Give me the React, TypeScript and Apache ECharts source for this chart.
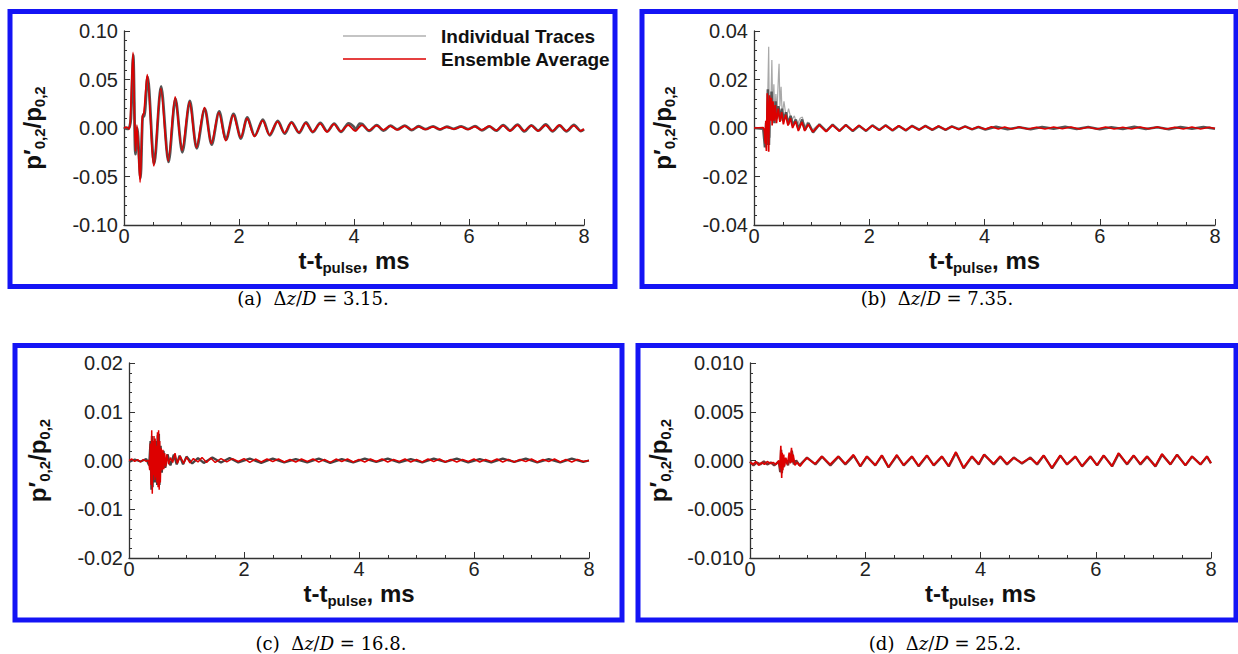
import React, { useEffect, useRef } from "react";
import * as echarts from "echarts";

// ---------------- data (t in ms, value p'/p) ----------------
const xTicks = [0, 2, 4, 6, 8];
const yTicksA = [-0.1, -0.05, 0, 0.05, 0.1];
const yTicksB = [-0.04, -0.02, 0, 0.02, 0.04];
const yTicksC = [-0.02, -0.01, 0, 0.01, 0.02];
const yTicksD = [-0.01, -0.005, 0, 0.005, 0.01];
const yDecimals = [2, 2, 2, 3];
const captions = ["(a)", "(b)", "(c)", "(d)"];
const dzOverD = ["3.15", "7.35", "16.8", "25.2"];
const legendNames = ["Individual Traces", "Ensemble Average"];

const avgA: number[][] = [[0,0],[0.05,0.001],[0.09,-0.001],[0.11,0.008],[0.157,0.078],[0.2,-0.024],[0.225,0.003],[0.28,-0.056],[0.32,0.012],[0.345,0.015],[0.405,0.055],[0.52,-0.039],[0.64,0.041],[0.77,-0.034],[0.89,0.032],[1.01,-0.023],[1.14,0.027],[1.26,-0.02],[1.4,0.021],[1.52,-0.016],[1.65,0.016],[1.77,-0.013],[1.9,0.0136],[2.03,-0.01],[2.14,0.01],[2.27,-0.0086],[2.41,0.0076],[2.53,-0.007],[2.67,0.0065],[2.79,-0.005],[2.91,0.0055],[3.04,-0.0045],[3.16,0.005],[3.28,-0.004],[3.41,0.0045],[3.53,-0.004],[3.65,0.004],[3.77,-0.0035],[3.9,0.003],[4.02,-0.003],[4.14,0.003],[4.26,-0.0025],[4.39,0.0025],[4.51,-0.002],[4.63,0.002],[4.75,-0.002],[4.88,0.002],[5.0,-0.0018],[5.12,0.0015],[5.24,-0.0015],[5.37,0.0012],[5.49,-0.0012],[5.61,0.001],[5.73,-0.0012],[5.86,0.0012],[5.98,-0.0015],[6.1,0.0015],[6.22,-0.002],[6.35,0.002],[6.47,-0.0025],[6.59,0.0025],[6.71,-0.003],[6.84,0.003],[6.96,-0.003],[7.08,0.0025],[7.2,-0.003],[7.33,0.003],[7.45,-0.003],[7.57,0.003],[7.69,-0.003],[7.82,0.0025],[7.94,-0.003],[8.0,-0.001]];

const traceA: number[][] = [[0,0.001],[0.06,-0.001],[0.1,0.002],[0.12,0.01],[0.16,0.075],[0.2,-0.027],[0.23,0.0],[0.285,-0.052],[0.33,0.014],[0.35,0.012],[0.41,0.053],[0.525,-0.037],[0.645,0.043],[0.775,-0.035],[0.895,0.03],[1.015,-0.025],[1.145,0.028],[1.265,-0.021],[1.405,0.02],[1.525,-0.017],[1.655,0.017],[1.775,-0.012],[1.905,0.0145],[2.035,-0.011],[2.145,0.011],[2.275,-0.008],[2.415,0.0085],[2.535,-0.0075],[2.675,0.0072],[2.795,-0.0058],[2.915,0.006],[3.045,-0.005],[3.165,0.0058],[3.285,-0.0042],[3.415,0.0052],[3.535,-0.0035],[3.655,0.0045],[3.775,-0.004],[3.905,0.0048],[4.0,0.001],[4.025,-0.0025],[4.1,0.0045],[4.145,0.004],[4.265,-0.003],[4.395,0.003],[4.515,-0.0028],[4.635,0.0025],[4.755,-0.0015],[4.885,0.0025],[5.005,-0.0022],[5.125,0.0018],[5.245,-0.0012],[5.375,0.0016],[5.495,-0.0016],[5.615,0.0013],[5.735,-0.0008],[5.865,0.0016],[5.985,-0.0012],[6.105,0.0019],[6.225,-0.0024],[6.355,0.0017],[6.475,-0.0028],[6.595,0.003],[6.715,-0.0026],[6.845,0.0034],[6.965,-0.0035],[7.085,0.0028],[7.205,-0.0027],[7.335,0.0036],[7.455,-0.0034],[7.575,0.0026],[7.695,-0.0035],[7.825,0.0032],[7.945,-0.0032],[8.0,-0.0015]];

const avgB: number[][] = [[0,0],[0.16,0.0002],[0.18,-0.001],[0.195,-0.0065],[0.205,0.003],[0.215,-0.0095],[0.23,0.0143],[0.245,0.006],[0.255,-0.0098],[0.27,0.0135],[0.285,0.003],[0.3,0.0125],[0.315,0.001],[0.33,0.011],[0.35,0.003],[0.37,0.0095],[0.39,0.002],[0.42,0.008],[0.45,0.0025],[0.48,0.0065],[0.51,0.0015],[0.55,0.0055],[0.59,0.001],[0.63,0.004],[0.67,0.0],[0.72,0.0028],[0.77,-0.0012],[0.83,0.0025],[0.88,-0.0012],[0.94,0.0015],[1.02,-0.0016],[1.13,0.0013],[1.25,-0.0015],[1.36,0.0012],[1.48,-0.0013],[1.59,0.0012],[1.71,-0.0011],[1.82,0.0011],[1.94,-0.0011],[2.05,0.001],[2.17,-0.001],[2.28,0.001],[2.4,-0.0009],[2.51,0.0009],[2.63,-0.0009],[2.74,0.0008],[2.86,-0.0008],[2.97,0.0008],[3.09,-0.0007],[3.2,0.0008],[3.32,-0.0007],[3.43,0.0006],[3.55,-0.0006],[3.66,0.0006],[3.78,-0.0005],[3.89,0.0005],[4.01,-0.0005],[4.12,0.0005],[4.24,-0.0004],[4.35,0.0004],[4.47,-0.0004],[4.6,0.0004],[4.75,-0.0004],[4.9,0.0003],[5.05,-0.0004],[5.2,0.0004],[5.35,-0.0003],[5.5,0.0004],[5.65,-0.0004],[5.8,0.0003],[5.95,-0.0004],[6.1,0.0004],[6.25,-0.0004],[6.4,0.0003],[6.55,-0.0004],[6.7,0.0004],[6.85,-0.0003],[7.0,0.0004],[7.15,-0.0004],[7.3,0.0003],[7.45,-0.0004],[7.6,0.0004],[7.75,-0.0004],[7.9,0.0003],[8.0,-0.0002]];

const spikeB: number[][] = [[0,0],[0.17,0],[0.19,-0.004],[0.21,-0.0085],[0.235,0.01],[0.255,0.0335],[0.265,0.006],[0.28,-0.004],[0.295,0.012],[0.31,0.028],[0.325,0.008],[0.345,0.018],[0.36,0.005],[0.38,0.014],[0.4,0.007],[0.425,0.022],[0.435,0.0265],[0.45,0.009],[0.47,0.017],[0.49,0.005],[0.52,0.011],[0.56,0.004],[0.6,0.008],[0.65,0.003],[0.7,0.005],[0.75,0.001],[0.8,0.004],[0.84,0.0045],[0.88,0.0005],[0.93,0.0025],[1.0,-0.001],[1.1,0.001]];

const traceB: number[][] = [[0,0],[0.16,-0.0003],[0.19,-0.008],[0.21,0.002],[0.22,-0.007],[0.24,0.016],[0.25,0.004],[0.26,-0.007],[0.275,0.011],[0.29,0.005],[0.305,0.015],[0.32,0.004],[0.335,0.009],[0.355,0.002],[0.375,0.011],[0.395,0.004],[0.425,0.009],[0.455,0.003],[0.485,0.008],[0.515,0.003],[0.555,0.0065],[0.595,0.0015],[0.635,0.005],[0.675,0.001],[0.725,0.0035],[0.775,-0.0005],[0.835,0.0035],[0.885,-0.0008],[0.945,0.002],[1.025,-0.0018],[1.135,0.0015],[1.255,-0.0013],[1.365,0.0014],[1.485,-0.0012],[1.595,0.0013],[1.715,-0.0013],[1.825,0.0009],[1.945,-0.0012],[2.055,0.0011],[2.175,-0.0008],[2.285,0.0011],[2.405,-0.001],[2.515,0.0008],[2.635,-0.001],[2.745,0.0009],[2.865,-0.0007],[2.975,0.0009],[3.095,-0.0008],[3.205,0.0007],[3.325,-0.0008],[3.435,0.0007],[3.555,-0.0005],[3.665,0.0007],[3.785,-0.0006],[3.895,0.0004],[4.015,-0.0006],[4.2,0.0005],[4.4,-0.0005],[4.6,0.0003],[4.8,-0.0005],[5.0,0.0004],[5.2,-0.0003],[5.4,0.0005],[5.6,-0.0004],[5.8,0.0004],[6.0,-0.0005],[6.2,0.0003],[6.4,-0.0004],[6.6,0.0005],[6.8,-0.0004],[7.0,0.0003],[7.2,-0.0005],[7.4,0.0004],[7.6,-0.0003],[7.8,0.0004],[8.0,-0.0003]];

const avgC: number[][] = [[0,0],[0.05,0.0003],[0.1,-0.0002],[0.15,0.0002],[0.2,-0.0003],[0.25,0.0002],[0.3,-0.0002],[0.34,0.0001],[0.36,-0.002],[0.37,0.0035],[0.385,-0.005],[0.395,0.0062],[0.405,-0.0068],[0.415,0.004],[0.425,-0.003],[0.435,0.005],[0.445,-0.004],[0.455,0.0045],[0.465,-0.0035],[0.475,0.003],[0.485,-0.0045],[0.495,0.0058],[0.505,-0.0055],[0.515,0.0062],[0.525,-0.006],[0.535,0.004],[0.545,-0.0045],[0.56,0.0025],[0.575,-0.002],[0.59,0.0022],[0.605,-0.0018],[0.62,0.0015],[0.64,-0.0012],[0.66,0.0012],[0.69,-0.0008],[0.72,0.0006],[0.76,-0.0004],[0.8,0.0015],[0.84,-0.0006],[0.89,0.0009],[0.95,-0.0006],[1.0,0.0007],[1.06,-0.0005],[1.12,0.0004],[1.2,-0.0003],[1.27,0.0006],[1.35,-0.0004],[1.42,0.0005],[1.5,-0.0004],[1.6,0.0004],[1.7,-0.0003],[1.8,0.0004],[1.9,-0.0002],[2.0,0.0004],[2.1,-0.0004],[2.2,0.0003],[2.3,-0.0003],[2.4,0.0003],[2.5,-0.0002],[2.6,0.0003],[2.7,-0.0003],[2.8,0.0002],[2.9,-0.0003],[3.0,0.0003],[3.1,-0.0002],[3.2,0.0003],[3.3,-0.0003],[3.4,0.0002],[3.5,-0.0004],[3.6,0.0003],[3.7,-0.0002],[3.8,0.0003],[3.9,-0.0003],[4.0,0.0002],[4.1,-0.0003],[4.2,0.0003],[4.3,-0.0002],[4.4,0.0003],[4.5,-0.0003],[4.6,0.0002],[4.7,-0.0002],[4.8,0.0003],[4.9,-0.0003],[5.0,0.0002],[5.1,-0.0003],[5.2,0.0003],[5.3,-0.0002],[5.4,0.0003],[5.5,-0.0003],[5.6,0.0002],[5.7,-0.0003],[5.8,0.0002],[5.9,-0.0002],[6.0,0.0003],[6.1,-0.0003],[6.2,0.0002],[6.3,-0.0002],[6.4,0.0003],[6.5,-0.0003],[6.6,0.0002],[6.7,-0.0003],[6.8,0.0002],[6.9,-0.0002],[7.0,0.0003],[7.1,-0.0003],[7.2,0.0002],[7.3,-0.0002],[7.4,0.0003],[7.5,-0.0003],[7.6,0.0002],[7.7,-0.0003],[7.8,0.0002],[7.9,-0.0002],[8.0,0]];

const traceC: number[][] = [[0,-0.0003],[0.1,0.0002],[0.2,-0.0002],[0.3,0.0003],[0.35,-0.001],[0.375,0.004],[0.39,-0.006],[0.4,0.005],[0.41,-0.0055],[0.43,0.0035],[0.45,-0.0045],[0.47,0.004],[0.49,-0.005],[0.5,0.0052],[0.51,-0.0048],[0.52,0.0055],[0.53,-0.005],[0.55,0.003],[0.57,-0.0025],[0.6,0.002],[0.63,-0.0015],[0.67,0.0013],[0.72,-0.001],[0.78,0.0012],[0.83,-0.0008],[0.88,0.001],[0.94,-0.0008],[1.0,0.0008],[1.1,-0.0006],[1.2,0.0005],[1.3,-0.0005],[1.45,0.0006],[1.6,-0.0004],[1.75,0.0005],[1.9,-0.0004],[2.1,0.0004],[2.3,-0.0005],[2.5,0.0004],[2.7,-0.0004],[2.9,0.0003],[3.1,-0.0004],[3.3,0.0004],[3.5,-0.0005],[3.7,0.0003],[3.9,-0.0004],[4.1,0.0004],[4.3,-0.0003],[4.5,0.0004],[4.7,-0.0004],[4.9,0.0003],[5.1,-0.0004],[5.3,0.0004],[5.5,-0.0003],[5.7,0.0004],[5.9,-0.0004],[6.1,0.0003],[6.3,-0.0004],[6.5,0.0004],[6.7,-0.0003],[6.9,0.0004],[7.1,-0.0004],[7.3,0.0003],[7.5,-0.0004],[7.7,0.0004],[7.9,-0.0003],[8.0,0]];

const avgD: number[][] = [[0,-0.0002],[0.05,-0.0004],[0.1,-0.0001],[0.15,-0.0005],[0.2,-0.0002],[0.25,-0.0004],[0.3,-0.0001],[0.35,-0.0003],[0.4,-0.0002],[0.45,-0.0004],[0.5,0.0],[0.52,-0.0008],[0.535,0.0015],[0.55,-0.0018],[0.56,0.0008],[0.57,-0.001],[0.585,0.0006],[0.6,-0.0006],[0.62,0.0003],[0.65,-0.0004],[0.68,0.0008],[0.7,-0.0003],[0.72,0.0013],[0.735,-0.0002],[0.75,0.0006],[0.78,-0.0005],[0.82,-0.0002],[0.87,-0.0006],[0.93,-0.0001],[0.984,0.00027],[1.128,-0.00034],[1.244,0.00044],[1.389,-0.0004],[1.53,0.00044],[1.649,-0.00034],[1.794,0.0006],[1.91,-0.00058],[2.025,0.00044],[2.17,-0.00048],[2.286,0.00054],[2.401,-0.00068],[2.546,0.0006],[2.662,-0.00048],[2.807,0.00044],[2.922,-0.00054],[3.067,0.00054],[3.183,-0.00048],[3.327,0.00044],[3.443,-0.00058],[3.57,0.00088],[3.703,-0.00075],[3.848,0.00044],[3.964,-0.00034],[4.06,0.00062],[4.225,-0.00034],[4.34,0.00044],[4.456,-0.00034],[4.572,0.00027],[4.716,-0.00024],[4.861,0.00027],[4.977,-0.00034],[5.093,0.00054],[5.237,-0.00075],[5.382,0.00054],[5.498,-0.0004],[5.642,0.00044],[5.758,-0.00058],[5.903,0.00044],[6.019,-0.00048],[6.134,0.00054],[6.279,-0.00058],[6.395,0.00078],[6.539,-0.00034],[6.655,0.00054],[6.771,-0.00034],[6.887,0.00044],[7.031,-0.00058],[7.147,0.00068],[7.292,-0.0004],[7.407,0.0006],[7.552,-0.00048],[7.668,0.00044],[7.813,-0.0004],[7.928,0.00044],[8.0,-0.00024]];

const traceD: number[][] = [[0,-0.0001],[0.06,-0.0005],[0.12,-0.0002],[0.18,-0.0004],[0.24,-0.0001],[0.3,-0.0004],[0.36,-0.0002],[0.42,-0.0005],[0.5,-0.0001],[0.525,-0.0012],[0.54,0.0011],[0.553,-0.0013],[0.565,0.0005],[0.58,-0.0007],[0.61,0.0002],[0.66,-0.0005],[0.69,0.0006],[0.71,-0.0002],[0.725,0.001],[0.76,-0.0004],[0.8,0.0],[0.86,-0.0005],[0.99,0.0003],[1.135,-0.0004],[1.25,0.0004],[1.395,-0.0005],[1.535,0.0004],[1.655,-0.0004],[1.8,0.0005],[1.915,-0.0006],[2.03,0.0004],[2.175,-0.0005],[2.29,0.0005],[2.405,-0.0007],[2.55,0.0005],[2.668,-0.0005],[2.812,0.0004],[2.928,-0.0006],[3.072,0.0005],[3.19,-0.0005],[3.332,0.0004],[3.45,-0.0006],[3.575,0.0008],[3.708,-0.0008],[3.852,0.0004],[3.97,-0.0004],[4.065,0.0006],[4.23,-0.0004],[4.345,0.0004],[4.46,-0.0004],[4.578,0.0003],[4.72,-0.0003],[4.866,0.0003],[4.982,-0.0004],[5.098,0.0005],[5.242,-0.0008],[5.387,0.0005],[5.503,-0.0004],[5.648,0.0004],[5.763,-0.0006],[5.908,0.0004],[6.024,-0.0005],[6.14,0.0005],[6.284,-0.0006],[6.4,0.0007],[6.545,-0.0004],[6.66,0.0005],[6.776,-0.0004],[6.892,0.0004],[7.036,-0.0006],[7.152,0.0006],[7.297,-0.0004],[7.412,0.0006],[7.557,-0.0005],[7.673,0.0004],[7.818,-0.0004],[7.932,0.0004],[8.0,-0.0003]];

// ---------------- chart ----------------
const FONT = "'Liberation Sans', Arial, Helvetica, sans-serif";
const SERIF = "'DejaVu Serif', 'Liberation Serif', serif";
const RED = "#dd0000";
const BLUE = "#1414f5";
const LIGHT_GRAY = "#b0b0b0";

export default function App() {
  const ref = useRef<HTMLDivElement>(null);
  useEffect(() => {
    document.body.style.margin = "0";
    if (!ref.current) return;
    const chart = echarts.init(ref.current, undefined, { renderer: "svg" });

    const grids = [
      { left: 124, top: 31, width: 460, height: 194 },
      { left: 754, top: 31, width: 461, height: 194 },
      { left: 129, top: 363, width: 460, height: 195 },
      { left: 750, top: 363, width: 461, height: 195 },
    ];
    const yTicks = [yTicksA, yTicksB, yTicksC, yTicksD];

    const titleRich = {
      b: { fontFamily: FONT, fontWeight: "bold", fontSize: 24, lineHeight: 30, color: "#111" },
      s: { fontFamily: FONT, fontWeight: "bold", fontSize: 15, lineHeight: 15, verticalAlign: "bottom", color: "#111" },
    };

    const xAxes = grids.map((_, i) => ({
      type: "value",
      gridIndex: i,
      min: xTicks[0],
      max: xTicks[xTicks.length - 1],
      interval: xTicks[1] - xTicks[0],
      name: "{b|t-t}{s|pulse}{b|, ms}",
      nameLocation: "middle",
      nameGap: 20,
      nameTextStyle: { rich: titleRich },
      axisLine: { show: true, onZero: false, lineStyle: { color: "#333", width: 1.3 } },
      axisTick: { show: true, inside: true, length: 6, lineStyle: { color: "#333" } },
      minorTick: { show: true, splitNumber: 4, length: 3, lineStyle: { color: "#333" } },
      splitLine: { show: false },
      axisLabel: { fontFamily: FONT, fontSize: 20, color: "#222", margin: 1, formatter: (v: number) => String(v) },
    }));

    const yAxes = grids.map((_, i) => {
      const t = yTicks[i];
      const d = yDecimals[i];
      return {
        type: "value",
        gridIndex: i,
        min: t[0],
        max: t[t.length - 1],
        interval: t[2] - t[1],
        name: "{b|p′}{s|0,2}{b|/p}{s|0,2}",
        nameLocation: "middle",
        nameRotate: 90,
        nameGap: 77,
        nameTextStyle: { rich: titleRich },
        axisLine: { show: true, onZero: false, lineStyle: { color: "#333", width: 1.3 } },
        axisTick: { show: true, inside: true, length: 6, lineStyle: { color: "#333" } },
        minorTick: { show: true, splitNumber: 5, length: 3, lineStyle: { color: "#333" } },
        splitLine: { show: false },
        axisLabel: {
          fontFamily: FONT, fontSize: 20, color: "#222", margin: 6,
          formatter: (v: number) => v.toFixed(d),
        },
      };
    });

    const mk = (name: string, data: number[][], i: number, color: string, width: number, z: number, smooth: number | boolean = false) => ({
      type: "line",
      name,
      data,
      xAxisIndex: i,
      yAxisIndex: i,
      symbol: "none",
      showSymbol: false,
      silent: true,
      smooth,
      z,
      lineStyle: { color, width },
      itemStyle: { color },
    });

    const series = [
      mk(legendNames[0], traceA, 0, "#555555", 2.8, 2, 0.3),
      mk(legendNames[1], avgA, 0, RED, 1.7, 3, 0.3),
      mk(legendNames[0], spikeB, 1, "#a8a8a8", 1.2, 1),
      mk(legendNames[0], traceB, 1, "#555555", 2.5, 2),
      mk(legendNames[1], avgB, 1, RED, 1.7, 3),
      mk(legendNames[0], traceC, 2, "#444444", 2.3, 2),
      mk(legendNames[1], avgC, 2, RED, 1.5, 3),
      mk(legendNames[0], traceD, 3, "#7a3333", 2.4, 2),
      mk(legendNames[1], avgD, 3, RED, 1.6, 3),
    ];

    const capPos = [
      [313, 298],
      [937, 298],
      [331, 643],
      [945, 643],
    ];
    const capRich = {
      n: { fontFamily: SERIF, fontSize: 18, color: "#222" },
      i: { fontFamily: SERIF, fontSize: 18, fontStyle: "italic", color: "#222" },
    };

    const graphic: any[] = [
      { type: "rect", shape: { x: 10, y: 11.5, width: 605, height: 275 }, style: { fill: "none", stroke: BLUE, lineWidth: 5 }, silent: true },
      { type: "rect", shape: { x: 642, y: 11.5, width: 594, height: 275 }, style: { fill: "none", stroke: BLUE, lineWidth: 5 }, silent: true },
      { type: "rect", shape: { x: 15, y: 345.5, width: 607, height: 274.5 }, style: { fill: "none", stroke: BLUE, lineWidth: 5 }, silent: true },
      { type: "rect", shape: { x: 638, y: 345.5, width: 598, height: 274.5 }, style: { fill: "none", stroke: BLUE, lineWidth: 5 }, silent: true },
      // legend (panel a)
      { type: "line", shape: { x1: 343, y1: 36, x2: 426, y2: 36 }, style: { stroke: LIGHT_GRAY, lineWidth: 1.3 }, silent: true },
      { type: "line", shape: { x1: 343, y1: 59, x2: 426, y2: 59 }, style: { stroke: RED, lineWidth: 1.7 }, silent: true },
      { type: "text", x: 441, y: 36, silent: true, style: { text: legendNames[0], fontFamily: FONT, fontWeight: "bold", fontSize: 19, fill: "#111", verticalAlign: "middle" } },
      { type: "text", x: 441, y: 59, silent: true, style: { text: legendNames[1], fontFamily: FONT, fontWeight: "bold", fontSize: 19, fill: "#111", verticalAlign: "middle" } },
    ];
    captions.forEach((c, k) => {
      graphic.push({
        type: "text",
        x: capPos[k][0],
        y: capPos[k][1],
        silent: true,
        style: {
          text: `{n|${c}  Δ}{i|z}{n|/}{i|D}{n| = ${dzOverD[k]}.}`,
          rich: capRich,
          align: "center",
          verticalAlign: "middle",
        },
      });
    });

    chart.setOption({
      animation: false,
      backgroundColor: "#ffffff",
      grid: grids.map((g) => ({ ...g, containLabel: false })),
      xAxis: xAxes,
      yAxis: yAxes,
      series,
      graphic,
    });

    return () => chart.dispose();
  }, []);

  return <div ref={ref} style={{ width: 1238, height: 654 }} />;
}
